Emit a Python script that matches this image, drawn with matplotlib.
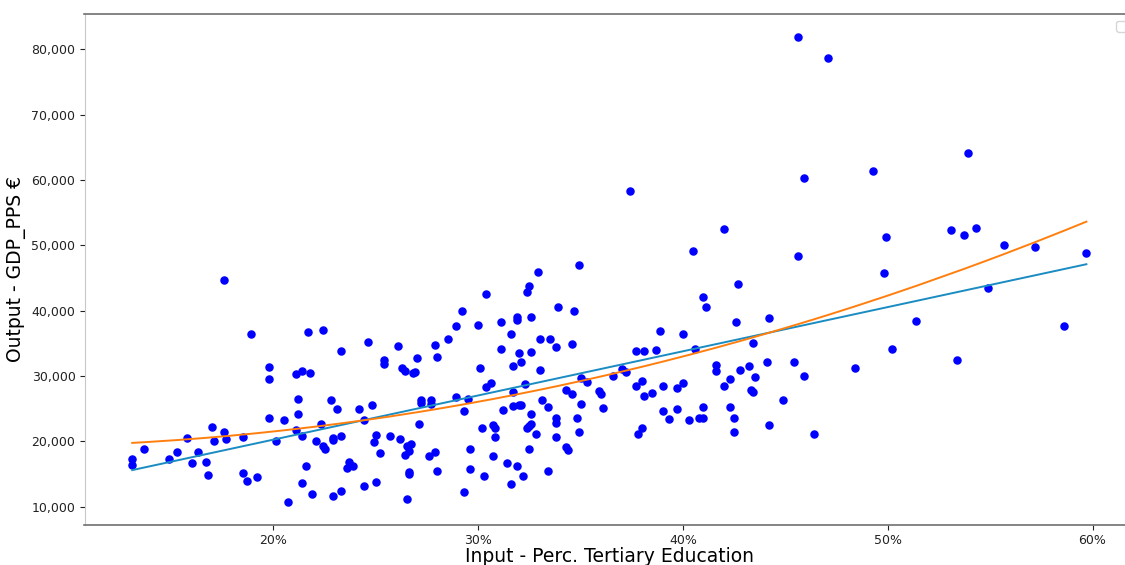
import matplotlib
matplotlib.use('Agg')
import matplotlib.pyplot as plt
import matplotlib.ticker as mtick
import numpy as np

# share of population with tertiary education (fraction) per region
tertiary_share = [
    # below ~22%
    0.131, 0.131, 0.137, 0.149, 0.153, 0.158, 0.160, 0.163, 0.167, 0.168,
    0.170, 0.171, 0.176, 0.177, 0.185, 0.185, 0.187, 0.192, 0.189, 0.198,
    0.198, 0.198, 0.201, 0.205, 0.207, 0.211, 0.214, 0.218, 0.217, 0.212,
    0.212, 0.211, 0.214, 0.216, 0.214, 0.219, 0.221, 0.176,
    # ~22% - 32%
    0.304, 0.292, 0.289, 0.300, 0.311, 0.224, 0.233, 0.246, 0.261, 0.254,
    0.254, 0.263, 0.264, 0.270, 0.268, 0.269, 0.279, 0.280, 0.285, 0.316,
    0.311, 0.317, 0.301, 0.304, 0.306, 0.228, 0.231, 0.223, 0.242, 0.248,
    0.244, 0.272, 0.272, 0.277, 0.277, 0.289, 0.295, 0.293, 0.317, 0.317,
    0.312, 0.271, 0.229, 0.229, 0.233, 0.224, 0.225, 0.250, 0.249, 0.257,
    0.262, 0.252, 0.265, 0.267, 0.266, 0.264, 0.276, 0.279, 0.237, 0.239,
    0.236, 0.266, 0.266, 0.280, 0.296, 0.302, 0.307, 0.308, 0.308, 0.307,
    0.314, 0.296, 0.303, 0.316, 0.250, 0.244, 0.233, 0.229, 0.265, 0.293,
    # ~32% - 42%
    0.374, 0.420, 0.405, 0.349, 0.329, 0.325, 0.324, 0.339, 0.347, 0.319,
    0.319, 0.326, 0.410, 0.411, 0.330, 0.335, 0.338, 0.346, 0.320, 0.326,
    0.321, 0.330, 0.323, 0.350, 0.353, 0.343, 0.346, 0.331, 0.320, 0.321,
    0.334, 0.350, 0.359, 0.360, 0.361, 0.326, 0.338, 0.338, 0.348, 0.326,
    0.325, 0.324, 0.328, 0.338, 0.349, 0.325, 0.343, 0.344, 0.319, 0.322,
    0.334, 0.366, 0.370, 0.372, 0.377, 0.381, 0.387, 0.389, 0.400, 0.406,
    0.416, 0.416, 0.420, 0.377, 0.380, 0.381, 0.385, 0.390, 0.397, 0.400,
    0.390, 0.393, 0.397, 0.403, 0.408, 0.410, 0.410, 0.380, 0.378,
    # above ~42%
    0.423, 0.423, 0.425, 0.425, 0.427, 0.426, 0.428, 0.432, 0.434, 0.435,
    0.433, 0.434, 0.456, 0.471, 0.539, 0.459, 0.493, 0.531, 0.537, 0.543,
    0.499, 0.557, 0.572, 0.597, 0.456, 0.498, 0.549, 0.442, 0.514, 0.586,
    0.502, 0.534, 0.441, 0.454, 0.459, 0.484, 0.449, 0.442, 0.464,
]

# GDP per head in PPS (euro)
gdp_pps = [
    17300, 16400, 18900, 17300, 18300, 20500, 16700, 18300, 16800, 14900,
    22200, 20100, 21400, 20400, 20600, 15200, 13900, 14500, 36500, 31400,
    29600, 23500, 20000, 23200, 10700, 30300, 30800, 30500, 36800, 26500,
    24200, 21700, 20800, 16200, 13600, 11900, 20000, 44700,
    42500, 40000, 37700, 37800, 38200, 37100, 33800, 35200, 34600, 32400,
    31800, 31200, 30700, 32700, 30500, 30600, 34700, 32900, 35600, 36500,
    34100, 31500, 31200, 28300, 28900, 26400, 24900, 22700, 24900, 25600,
    23300, 26300, 25800, 26400, 25700, 26800, 26500, 24700, 27600, 25400,
    24800, 22600, 20500, 20200, 20800, 19300, 18900, 21000, 19900, 20800,
    20300, 18200, 19300, 19600, 18500, 17900, 17800, 18400, 16800, 16200,
    15900, 15300, 15000, 15500, 18900, 22000, 22500, 22000, 20600, 17700,
    16700, 15700, 14700, 13500, 13800, 13100, 12400, 11600, 11200, 12300,
    58300, 52500, 49200, 47000, 45900, 43700, 42800, 40600, 39900, 39100,
    38500, 39100, 42100, 40600, 35600, 35600, 34500, 34900, 33500, 33600,
    32200, 30900, 28800, 29700, 29100, 27800, 27200, 26400, 25500, 25600,
    25200, 25700, 27700, 27200, 25100, 24200, 23500, 22800, 23500, 22700,
    22400, 22000, 21100, 20700, 21500, 18900, 19200, 18700, 16300, 14700,
    15400, 30000, 31000, 30600, 33900, 33900, 34000, 36900, 36500, 34200,
    31700, 30800, 28400, 28500, 29300, 27000, 27400, 28500, 28200, 28900,
    24700, 23400, 24900, 23200, 23600, 23500, 25200, 22100, 21100,
    29600, 25200, 23500, 21400, 44100, 38300, 30900, 31500, 35000, 29900,
    27900, 27500, 81900, 78700, 64100, 60300, 61300, 52300, 51600, 52700,
    51200, 50100, 49800, 48800, 48300, 45800, 43500, 38900, 38400, 37600,
    34100, 32400, 32100, 32100, 30000, 31200, 26400, 22500, 21200,
]

x = np.array(tertiary_share)
y = np.array(gdp_pps)

# linear and quadratic fit
lin = np.poly1d(np.polyfit(x, y, 1))
quad = np.poly1d(np.polyfit(x, y, 2))
xs = np.sort(x)

fig = plt.figure(figsize=(11.25, 5.65), dpi=100)
ax = fig.add_axes([84.5 / 1125, 39.6 / 565, 1049.6 / 1125, 511.8 / 565])

ax.scatter(x, y, s=26, color='blue')
ax.plot(xs, lin(xs), color='#1a8cc2', lw=1.4)
ax.plot(xs, quad(xs), color='#ff7f0e', lw=1.4)

ax.xaxis.set_major_locator(mtick.MultipleLocator(0.1))
ax.xaxis.set_major_formatter(mtick.PercentFormatter(1.0, decimals=0))
ax.yaxis.set_major_locator(mtick.MultipleLocator(10000))
ax.yaxis.set_major_formatter(mtick.StrMethodFormatter('{x:,.0f}'))

ax.set_xlabel('Input - Perc. Tertiary Education', fontsize=13.5, labelpad=0)
ax.set_ylabel('Output - GDP_PPS €', fontsize=13.5)
ax.tick_params(labelsize=9, colors='#222222', pad=3)

for side in ['top', 'bottom', 'right']:
    ax.spines[side].set_color('#707070')
    ax.spines[side].set_linewidth(1.2)
ax.spines['left'].set_color('#c8c8c8')

# empty legend box like the original
ax.legend(handles=[], loc='upper right')

fig.savefig('out.png', dpi=100)
